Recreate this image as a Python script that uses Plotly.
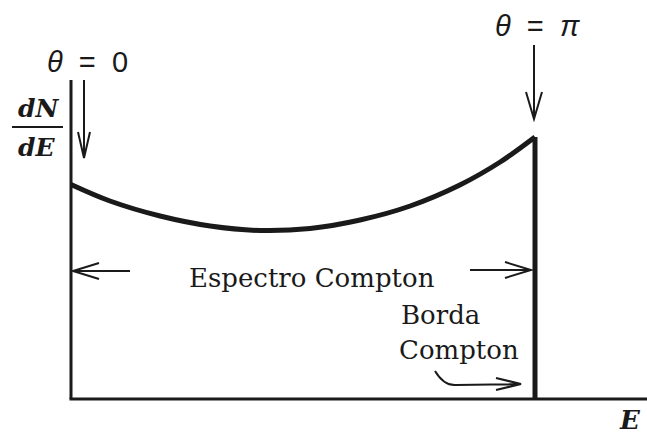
import plotly.graph_objects as go

# Compton continuum: energy in units of the Compton edge, intensity in arbitrary units
energy = [0.0, 0.084, 0.192, 0.300, 0.407, 0.515, 0.623, 0.731, 0.838, 0.925, 1.0]
dn_de = [2.145, 1.98, 1.83, 1.73, 1.685, 1.705, 1.79, 1.93, 2.14, 2.37, 2.62]
edge_energy = 1.0
edge_height = dn_de[-1]

W, H = 647, 437
OX, OY = 71, 399          # pixel position of the origin
SX, SY = 464.0, 100.0     # pixels per data unit


def X(px):
    return (px - OX) / SX


def Y(py):
    return (OY - py) / SY


INK = "#1a1a1a"

fig = go.Figure()

# spectrum curve
fig.add_trace(go.Scatter(
    x=energy, y=dn_de, mode="lines",
    line=dict(color=INK, width=5, shape="spline", smoothing=1.0),
    hoverinfo="skip", showlegend=False,
))
# sharp drop at the Compton edge
fig.add_trace(go.Scatter(
    x=[edge_energy, edge_energy], y=[0, edge_height], mode="lines",
    line=dict(color=INK, width=5),
    hoverinfo="skip", showlegend=False,
))

shapes = []
# axes
shapes.append(dict(type="line", x0=0, y0=0, x1=0, y1=Y(80),
                   line=dict(color=INK, width=3)))
shapes.append(dict(type="line", x0=X(69.5), y0=0, x1=X(W), y1=0,
                   line=dict(color=INK, width=3)))


def arrow(tail, tip, head1, head2, width=2):
    path = (f"M {X(tail[0])},{Y(tail[1])} L {X(tip[0])},{Y(tip[1])} "
            f"M {X(head1[0])},{Y(head1[1])} L {X(tip[0])},{Y(tip[1])} "
            f"L {X(head2[0])},{Y(head2[1])}")
    return dict(type="path", path=path, line=dict(color=INK, width=width))


# theta = 0 and theta = pi markers
shapes.append(arrow((84, 80), (84, 158), (78, 132), (90, 132)))
shapes.append(arrow((534, 45), (534, 119), (526, 92), (542, 92)))
# extent of the Compton continuum
shapes.append(arrow((130, 271), (73, 271), (99, 263), (99, 279)))
shapes.append(arrow((470, 270), (531, 270), (505, 262), (505, 278)))
# Compton edge pointer
shapes.append(dict(
    type="path",
    path=(f"M {X(435)},{Y(371)} Q {X(444)},{Y(386)} {X(456)},{Y(385)} "
          f"L {X(521)},{Y(384)} "
          f"M {X(496)},{Y(378)} L {X(521)},{Y(384)} L {X(496)},{Y(390)}"),
    line=dict(color=INK, width=2),
))
# fraction bar of dN/dE
shapes.append(dict(type="line", x0=X(12), y0=Y(127), x1=X(63), y1=Y(127),
                   line=dict(color=INK, width=2)))

SERIF = "DejaVu Serif"
SANS = "Liberation Sans"

annotations = [
    dict(x=X(87), y=Y(62), text="<i>θ</i>  =  0", font=dict(family=SANS, size=29, color=INK)),
    dict(x=X(537), y=Y(26), text="<i>θ</i>  =  <i>π</i>", font=dict(family=SANS, size=29, color=INK)),
    dict(x=X(38), y=Y(108), text="<b><i>dN</i></b>", font=dict(family=SERIF, size=25, color=INK)),
    dict(x=X(36), y=Y(147), text="<b><i>dE</i></b>", font=dict(family=SERIF, size=25, color=INK)),
    dict(x=X(312), y=Y(278), text="Espectro Compton", font=dict(family=SERIF, size=26, color=INK)),
    dict(x=X(399), y=Y(315), text="Borda", xanchor="left", font=dict(family=SERIF, size=26, color=INK)),
    dict(x=X(397), y=Y(350), text="Compton", xanchor="left", font=dict(family=SERIF, size=26, color=INK)),
    dict(x=X(630), y=Y(420), text="<b><i>E</i></b>", font=dict(family=SERIF, size=26, color=INK)),
]
for a in annotations:
    a.update(xref="x", yref="y", showarrow=False)
    a.setdefault("xanchor", "center")
    a["yanchor"] = "middle"

fig.update_layout(
    width=W, height=H,
    margin=dict(l=0, r=0, t=0, b=0),
    paper_bgcolor="white", plot_bgcolor="white",
    xaxis=dict(range=[X(0), X(W)], visible=False, fixedrange=True),
    yaxis=dict(range=[Y(H), Y(0)], visible=False, fixedrange=True),
    shapes=shapes,
    annotations=annotations,
)

fig.write_html("out.html")
